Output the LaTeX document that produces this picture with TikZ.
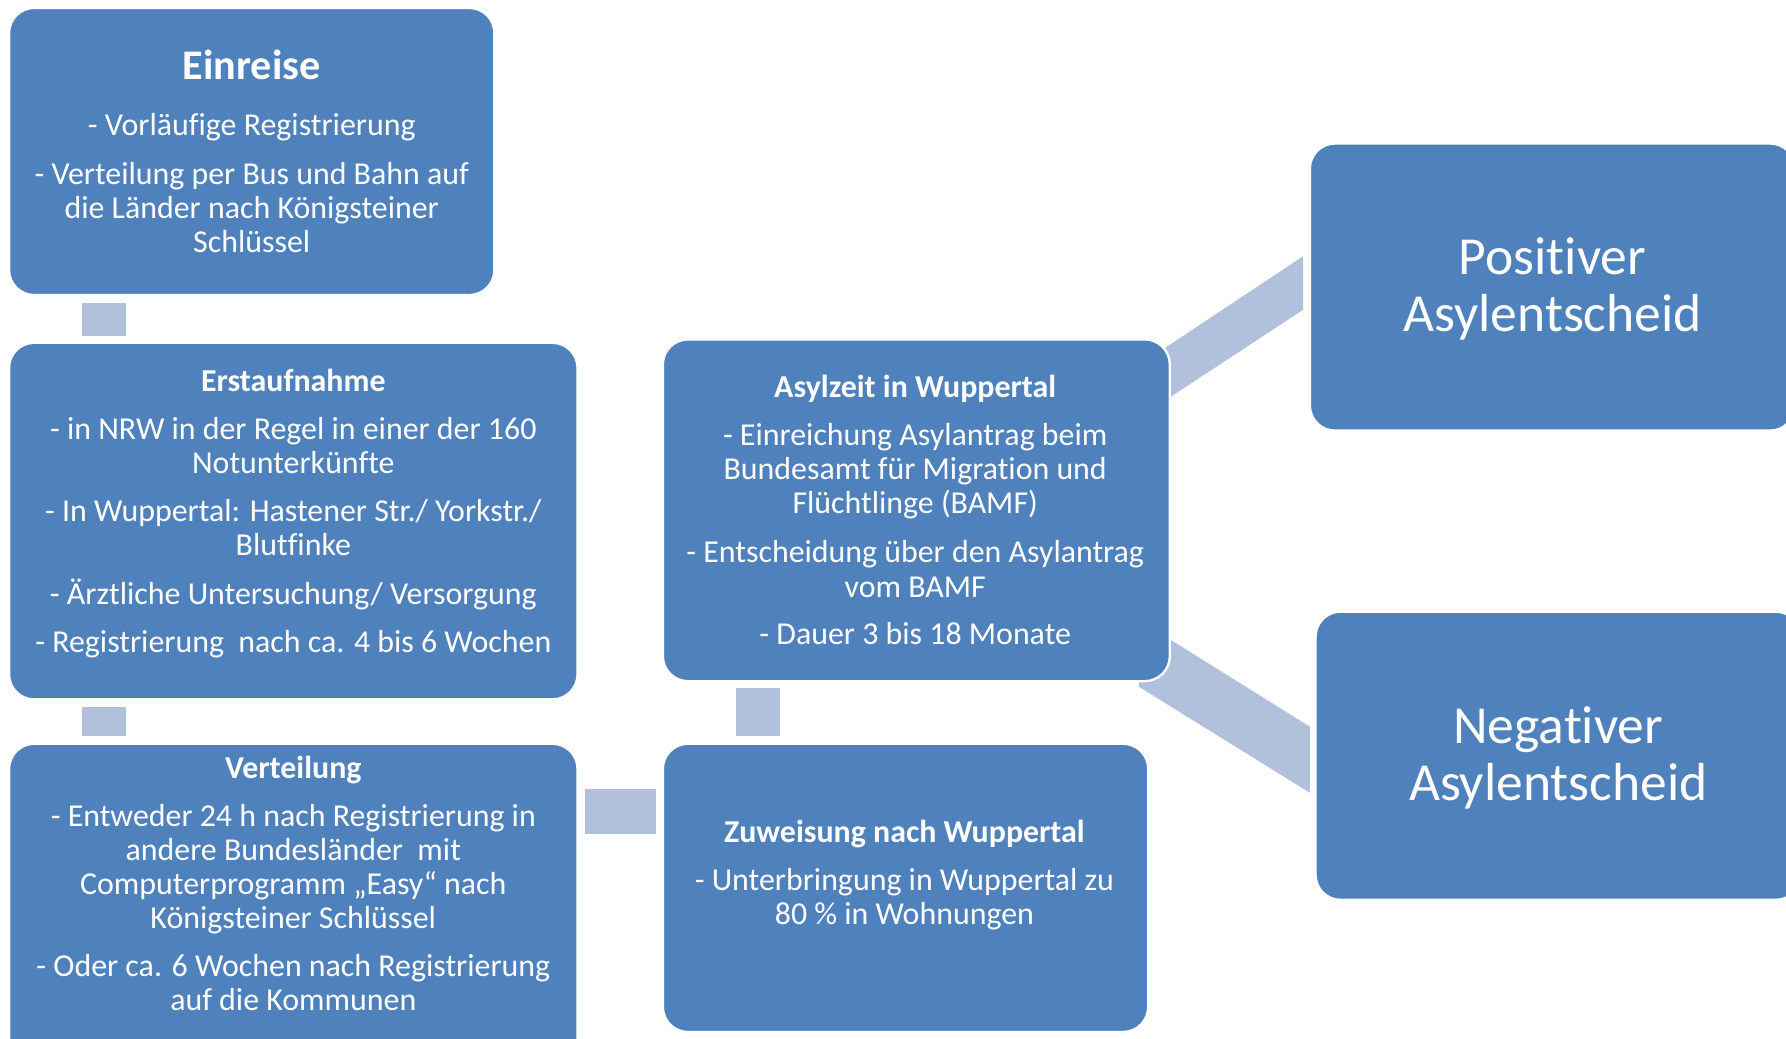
\documentclass[tikz,border=0pt]{standalone}
\usepackage{fontspec}
\setmainfont{Carlito}[Ligatures=NoCommon]
\usetikzlibrary{calc}
\definecolor{boxblue}{RGB}{79,129,189}
\definecolor{connblue}{RGB}{177,193,220}
\tikzset{
  box/.style={draw=white, line width=2pt, fill=boxblue, rounded corners=22pt, inner sep=0pt},
  conn/.style={fill=connblue, draw=none},
  txt/.style={text=white, align=center, inner sep=0pt, font=\fontsize{28}{30}\selectfont},
  bigtxt/.style={text=white, align=center, inner sep=0pt, font=\fontsize{47}{50}\selectfont},
}
\begin{document}
\begin{tikzpicture}[x=1pt,y=-1pt]
\clip (0,0) rectangle (1568,912);
\fill[white] (0,0) rectangle (1568,912);
% boxes (drawn after connectors where overlapping)
\path (221,133) node[box, minimum width=426, minimum height=252] (ein) {};
\path (257.5,457.5) node[box, minimum width=499, minimum height=313] (erst) {};
\path (257.5,806.5) node[box, minimum width=499, minimum height=307] (vert) {};
\path (795,779.5) node[box, minimum width=426, minimum height=253] (zuw) {};
\path (1363,252) node[box, minimum width=426, minimum height=252] (pos) {};
\path (1368,663.5) node[box, minimum width=426, minimum height=253] (neg) {};
% connectors
\fill[conn] ($(ein.south west)+(65,6)$) rectangle ($(erst.north west)+(104,-5)$);
\fill[conn] ($(erst.south west)+(65,6)$) rectangle ($(vert.north west)+(104,-6)$);
\fill[conn] ($(vert.north east)+(6,41)$) rectangle ($(zuw.north west)+(-5,80)$);
\coordinate (asylNE) at (1027,298);
\coordinate (asylSE) at (1027,598);
\fill[conn] ($(asylNE)+(-27,22.6)$) -- ($(pos.west)+(-5,-27)$) -- ($(pos.west)+(-5,20)$) -- ($(asylNE)+(-27,68.6)$) -- cycle;
\fill[conn] ($(asylSE)+(-27,-53.6)$) -- ($(neg.west)+(-4,-25.5)$) -- ($(neg.west)+(-4,32.5)$) -- ($(asylSE)+(-27,5)$) -- cycle;
\path (804.5,448) node[box, minimum width=445, minimum height=300] (asyl) {};
\fill[conn] ($(zuw.north west)+(65,-6)$) rectangle ($(asyl.south west)+(104,5)$);
% texts
\node[txt] (teinreise) at ($(ein.center)+(0,0)$) {{\fontsize{37}{40}\selectfont\bfseries Einreise}\\[19pt]
- Vorläufige Registrierung\\[13pt]
- Verteilung per Bus und Bahn auf\\
die Länder nach Königsteiner\\
Schlüssel};
\node[txt] (terst) at ($(erst.center)+(0,-7)$) {\textbf{Erstaufnahme}\\[12pt]
- in NRW in der Regel in einer der 160\\
Notunterkünfte\\[12pt]
- In Wuppertal: Hastener Str./ Yorkstr./\\
Blutfinke\\[13pt]
- Ärztliche Untersuchung/ Versorgung\\[12pt]
- Registrierung\ \ nach ca. 4 bis 6 Wochen};
\node[txt] (tvert) at ($(vert.center)+(0,-31)$) {\textbf{Verteilung}\\[12pt]
- Entweder 24 h nach Registrierung in\\
andere Bundesländer\ \ mit\\
Computerprogramm „Easy“ nach\\
Königsteiner Schlüssel\\[12pt]
- Oder ca. 6 Wochen nach Registrierung\\
auf die Kommunen};
\node[txt] (tasyl) at ($(asyl.center)+(-1,0)$) {\textbf{Asylzeit in Wuppertal}\\[12pt]
- Einreichung Asylantrag beim\\
Bundesamt für Migration und\\
Flüchtlinge (BAMF)\\[13pt]
- Entscheidung über den Asylantrag\\
vom BAMF\\[12pt]
- Dauer 3 bis 18 Monate};
\node[txt] (tzuw) at ($(zuw.center)+(-1,-11.5)$) {\textbf{Zuweisung nach Wuppertal}\\[12pt]
- Unterbringung in Wuppertal zu\\
80 \% in Wohnungen};
\node[bigtxt] (tpos) at ($(pos.center)+(0,2)$) {Positiver\\Asylentscheid};
\node[bigtxt] (tneg) at ($(neg.center)+(0,1.5)$) {Negativer\\Asylentscheid};
\end{tikzpicture}
\end{document}
